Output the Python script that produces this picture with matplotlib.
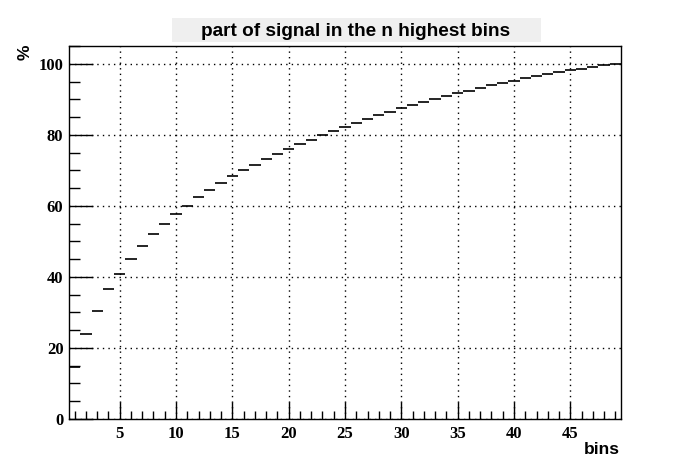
import numpy as np
import matplotlib
matplotlib.use("Agg")
import matplotlib.pyplot as plt
import matplotlib.ticker as ticker
from matplotlib.patches import Rectangle

# bin contents (percent of signal in the n highest bins)
bins = np.arange(1, 50)
percent = [14.6, 23.8, 30.4, 36.6, 40.8, 45.1, 48.7, 52.1, 54.9, 57.6,
           60.0, 62.5, 64.5, 66.5, 68.4, 70.2, 71.5, 73.2, 74.6, 76.0,
           77.4, 78.5, 79.9, 81.0, 82.1, 83.4, 84.5, 85.6, 86.4, 87.5,
           88.4, 89.2, 90.2, 90.9, 91.8, 92.4, 93.3, 93.9, 94.6, 95.1,
           96.0, 96.5, 97.2, 97.7, 98.3, 98.6, 99.1, 99.6, 100.0]
title = "part of signal in the n highest bins"

W, H = 689, 467
fig = plt.figure(figsize=(W / 100, H / 100), dpi=100)
fig.patch.set_facecolor("white")

x0, x1, y0, y1 = 69, 621, 46, 419
ax = fig.add_axes([x0 / W, 1 - y1 / H, (x1 - x0) / W, (y1 - y0) / H])

ax.hlines(percent, bins - 0.5, bins + 0.5, colors="black", lw=1.2)

ax.set_xlim(0.5, 49.5)
ax.set_ylim(0, 105)
ax.xaxis.set_major_locator(ticker.MultipleLocator(5))
ax.xaxis.set_minor_locator(ticker.MultipleLocator(1))
ax.yaxis.set_major_locator(ticker.MultipleLocator(20))
ax.yaxis.set_minor_locator(ticker.MultipleLocator(5))
ax.xaxis.set_major_formatter(ticker.FuncFormatter(lambda v, p: "%d" % v if 0 < v < 49 else ""))

ax.tick_params(axis="x", which="major", direction="in", length=12, width=1, pad=5)
ax.tick_params(axis="x", which="minor", direction="in", length=6, width=1)
ax.tick_params(axis="y", which="major", direction="in", length=17, width=1, pad=4)
ax.tick_params(axis="y", which="minor", direction="in", length=8, width=1)
for lab in ax.get_xticklabels() + ax.get_yticklabels():
    lab.set_fontfamily("Liberation Serif")
    lab.set_fontweight("bold")
    lab.set_fontsize(12)

ax.grid(True, which="major", color="black", ls=(0, (1, 3)), lw=1)
for s in ax.spines.values():
    s.set_linewidth(1)

# title box
fig.patches.append(Rectangle((172 / W, 1 - 42 / H), (541 - 172) / W, 24 / H,
                             transform=fig.transFigure, facecolor="#efefef",
                             edgecolor="none"))
fig.text(356 / W, 1 - 31 / H, title, ha="center", va="center",
         fontfamily="Liberation Sans", fontweight="bold", fontsize=13.7)

fig.text(25 / W, 1 - 52 / H, "%", rotation=90, ha="center", va="center",
         fontfamily="Liberation Sans", fontweight="bold", fontsize=12.5)
fig.text(620 / W, 1 - 449 / H, "bins", ha="right", va="center",
         fontfamily="Liberation Sans", fontweight="bold", fontsize=12.5)

fig.savefig("out.png", dpi=100)
